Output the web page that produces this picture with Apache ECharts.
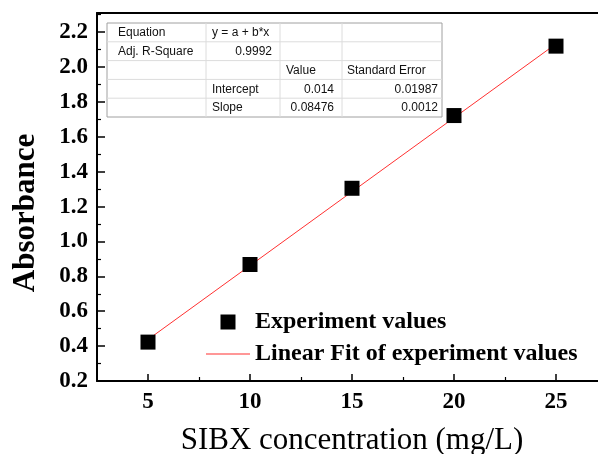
<!DOCTYPE html>
<html>
<head>
<meta charset="utf-8">
<script src="https://cdn.jsdelivr.net/npm/echarts@6/dist/echarts.min.js"></script>
<style>
  html, body { margin: 0; padding: 0; background: #fff; }
  #chart { width: 598px; height: 454px; }
</style>
</head>
<body>
<div id="chart"></div>
<script>
// 数据
var concentration = [5, 10, 15, 20, 25];
var absorbance = [0.423, 0.868, 1.305, 1.722, 2.12];
var intercept = 0.014;
var slope = 0.08476;
var fitX = [5, 25];
var xMajor = [5, 10, 15, 20, 25];
var xMinor = [7.5, 12.5, 17.5, 22.5];
var tableRows = [
  ['Equation', 'y = a + b*x', '', ''],
  ['Adj. R-Square', '0.9992', '', ''],
  ['', '', 'Value', 'Standard Error'],
  ['', 'Intercept', '0.014', '0.01987'],
  ['', 'Slope', '0.08476', '0.0012']
];

var fitLine = fitX.map(function (x) { return [x, intercept + slope * x]; });
var points = concentration.map(function (x, i) { return [x, absorbance[i]]; });

var serif = '"Liberation Serif", "Times New Roman", serif';

// 表格（拟合结果）
var colX = [107, 206, 280, 342, 442];
var padL = [11, 6, 6, 5];
var rowY0 = 23, rowH = 18.8;
var tableEls = [];
tableEls.push({ type: 'rect', shape: { x: colX[0], y: rowY0, width: colX[4] - colX[0], height: rowH * 5 },
  style: { fill: '#fff', stroke: '#a0a0a0', lineWidth: 1 }, z: 10 });
for (var r = 1; r < 5; r++) {
  tableEls.push({ type: 'line', shape: { x1: colX[0], y1: rowY0 + r * rowH, x2: colX[4], y2: rowY0 + r * rowH },
    style: { stroke: '#dcdcdc', lineWidth: 1 }, z: 10 });
}
for (var c = 1; c < 4; c++) {
  tableEls.push({ type: 'line', shape: { x1: colX[c], y1: rowY0, x2: colX[c], y2: rowY0 + rowH * 5 },
    style: { stroke: '#dcdcdc', lineWidth: 1 }, z: 10 });
}
tableRows.forEach(function (row, ri) {
  row.forEach(function (txt, ci) {
    if (!txt) return;
    var rightAlign = (ri === 1 && ci === 1) || (ri >= 3 && ci >= 2);
    tableEls.push({ type: 'text', z: 11,
      x: rightAlign ? colX[ci + 1] - (ci === 3 ? 4 : 8) : colX[ci] + padL[ci],
      y: rowY0 + ri * rowH + rowH / 2 + 0.5,
      style: { text: txt, font: '12px "Liberation Sans", Arial', fill: '#111',
        textAlign: rightAlign ? 'right' : 'left', textVerticalAlign: 'middle' } });
  });
});

// 纵轴标题
tableEls.push({ type: 'text', x: 26, y: 213, rotation: Math.PI / 2,
  style: { text: 'Absorbance', font: 'bold 31px ' + serif, fill: '#000',
    textAlign: 'center', textVerticalAlign: 'middle' } });

var tickFont = { fontFamily: serif, fontWeight: 'bold', fontSize: 23, color: '#000' };

var myChart = echarts.init(document.getElementById('chart'));
var option = {
  animation: false,
  grid: { left: 97, right: -9, top: 13, bottom: 73, outerBoundsMode: 'none' },
  legend: {
    orient: 'vertical', left: 201, top: 305,
    itemWidth: 44, itemHeight: 15, itemGap: 8,
    textStyle: { fontFamily: serif, fontWeight: 'bold', fontSize: 24, lineHeight: 24, color: '#000' },
    data: [
      { name: 'Experiment values', icon: 'path://M0,0L10,0L10,10L0,10Z' },
      { name: 'Linear Fit of experiment values', icon: 'path://M0,0L44,0L44,1L0,1Z' }
    ]
  },
  xAxis: [{
    type: 'value', min: 2.5, max: 27.5,
    name: 'SIBX concentration (mg/L)', nameLocation: 'middle', nameGap: 44,
    nameTextStyle: { fontFamily: serif, fontSize: 31, color: '#000' },
    axisLine: { lineStyle: { color: '#000', width: 2 } },
    axisTick: { inside: true, length: 7, customValues: xMajor, lineStyle: { color: '#000', width: 1.5 } },
    splitLine: { show: false },
    axisLabel: Object.assign({ margin: 10, customValues: xMajor }, tickFont)
  }, {
    type: 'value', min: 2.5, max: 27.5, position: 'bottom',
    axisLine: { show: false },
    axisTick: { inside: true, length: 4, customValues: xMinor, lineStyle: { color: '#000', width: 1.2 } },
    axisLabel: { show: false }, splitLine: { show: false }
  }, {
    type: 'value', min: 2.5, max: 27.5, position: 'top',
    axisLine: { lineStyle: { color: '#000', width: 2 } },
    axisTick: { show: false }, axisLabel: { show: false }, splitLine: { show: false }
  }],
  yAxis: {
    type: 'value', min: 0.2, max: 2.31, interval: 0.2,
    axisLine: { show: true, lineStyle: { color: '#000', width: 2 } },
    axisTick: { inside: true, length: 8, lineStyle: { color: '#000', width: 1.5 } },
    minorTick: { show: true, splitNumber: 2, length: 4, lineStyle: { color: '#000', width: 1.2 } },
    splitLine: { show: false },
    axisLabel: Object.assign({ margin: 9, showMaxLabel: false, formatter: function (v) { return v.toFixed(1); } }, tickFont)
  },
  series: [{
    name: 'Linear Fit of experiment values',
    type: 'line', data: fitLine, symbol: 'none',
    lineStyle: { color: '#ff3030', width: 1 },
    itemStyle: { color: '#ff3030' }, z: 2
  }, {
    name: 'Experiment values',
    type: 'scatter', data: points, symbol: 'rect', symbolSize: 15,
    itemStyle: { color: '#000', opacity: 1 }, z: 3
  }],
  graphic: tableEls
};
myChart.setOption(option);
</script>
</body>
</html>
